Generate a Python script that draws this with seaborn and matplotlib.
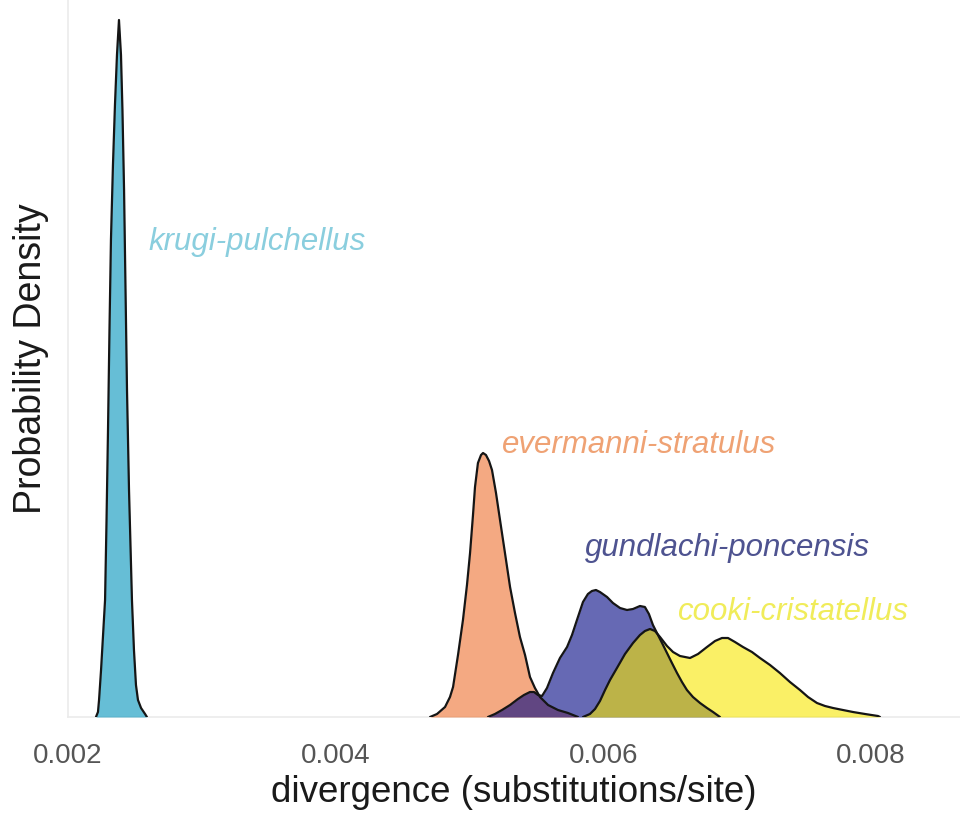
import matplotlib
matplotlib.use("Agg")
import matplotlib.pyplot as plt
import pandas as pd
import seaborn as sns

# Posterior densities of pairwise divergence (substitutions/site)
species = ["krugi-pulchellus", "evermanni-stratulus",
           "gundlachi-poncensis", "cooki-cristatellus"]

krugi_x = [0.002209, 0.002224, 0.002232, 0.002247, 0.002262, 0.002277, 0.002288,
           0.002299, 0.002310, 0.002321, 0.002336, 0.002351, 0.002366, 0.002381,
           0.002396, 0.002407, 0.002419, 0.002430, 0.002441, 0.002456, 0.002478,
           0.002493, 0.002508, 0.002523, 0.002546, 0.002576, 0.002590]
krugi_d = [0, 50, 170, 470, 820, 1170, 1970, 2870, 3870, 4770, 5520, 6120, 6620,
           6970, 6620, 6070, 5270, 4270, 3270, 2270, 1170, 670, 320, 170, 90, 30, 0]

evermanni_x = [0.004706, 0.004758, 0.004818, 0.004855, 0.004878, 0.004915, 0.004952,
               0.004982, 0.005005, 0.005027, 0.005042, 0.005064, 0.005087, 0.005102,
               0.005124, 0.005147, 0.005169, 0.005199, 0.005229, 0.005266, 0.005304,
               0.005341, 0.005378, 0.005416, 0.005453, 0.005490, 0.005528, 0.005588,
               0.005662, 0.005737, 0.005812]
evermanni_d = [0, 30, 100, 200, 300, 620, 970, 1320, 1640, 2020, 2300, 2540, 2620,
               2640, 2620, 2560, 2470, 2240, 1970, 1640, 1300, 1040, 800, 620, 400,
               290, 200, 120, 70, 40, 0]

gundlachi_x = [0.005139, 0.005191, 0.005244, 0.005304, 0.005363, 0.005408, 0.005453,
               0.005483, 0.005513, 0.005543, 0.005580, 0.005625, 0.005677, 0.005730,
               0.005767, 0.005804, 0.005849, 0.005886, 0.005916, 0.005946, 0.005976,
               0.006029, 0.006073, 0.006126, 0.006178, 0.006223, 0.006275, 0.006312,
               0.006342, 0.006372, 0.006402, 0.006440, 0.006477, 0.006514, 0.006552,
               0.006589, 0.006626, 0.006671, 0.006724, 0.006776, 0.006821, 0.006873]
gundlachi_d = [0, 30, 70, 120, 180, 220, 250, 250, 220, 210, 290, 440, 590, 700,
               820, 970, 1150, 1230, 1260, 1270, 1250, 1200, 1140, 1090, 1070, 1080,
               1110, 1100, 1030, 920, 840, 740, 640, 540, 440, 350, 270, 200, 140,
               90, 50, 0]

cooki_x = [0.005849, 0.005901, 0.005939, 0.005976, 0.006014, 0.006051, 0.006103,
           0.006163, 0.006223, 0.006275, 0.006312, 0.006350, 0.006387, 0.006425,
           0.006477, 0.006522, 0.006574, 0.006649, 0.006709, 0.006776, 0.006836,
           0.006888, 0.006933, 0.006985, 0.007045, 0.007112, 0.007172, 0.007247,
           0.007321, 0.007396, 0.007471, 0.007531, 0.007598, 0.007658, 0.007718,
           0.007792, 0.007867, 0.007957, 0.008054, 0.008069]
cooki_d = [0, 30, 80, 160, 270, 370, 490, 630, 740, 820, 860, 880, 860, 800, 710,
           650, 610, 590, 630, 700, 760, 790, 790, 750, 700, 650, 590, 520, 440,
           350, 270, 200, 140, 110, 90, 70, 50, 30, 10, 0]

x_ticks = [0.002, 0.004, 0.006, 0.008]
x_tick_labels = ["0.002", "0.004", "0.006", "0.008"]

series = {
    "krugi-pulchellus": (krugi_x, krugi_d),
    "evermanni-stratulus": (evermanni_x, evermanni_d),
    "gundlachi-poncensis": (gundlachi_x, gundlachi_d),
    "cooki-cristatellus": (cooki_x, cooki_d),
}
df = pd.concat(
    [pd.DataFrame({"divergence": xs, "density": ds, "pair": name})
     for name, (xs, ds) in series.items()],
    ignore_index=True,
)

fill_colors = {
    "krugi-pulchellus": "#0093BC",
    "evermanni-stratulus": "#EE712F",
    "gundlachi-poncensis": "#000582",
    "cooki-cristatellus": "#F7E600",
}
text_colors = {
    "krugi-pulchellus": "#8ACEDE",
    "evermanni-stratulus": "#EFA274",
    "gundlachi-poncensis": "#4E5390",
    "cooki-cristatellus": "#F0EC5A",
}
# label anchor (left edge, vertical centre) in data coordinates
label_anchor = {
    "krugi-pulchellus": (0.002598, 4750),
    "evermanni-stratulus": (0.005244, 2720),
    "gundlachi-poncensis": (0.005864, 1690),
    "cooki-cristatellus": (0.006559, 1050),
}

sns.set_theme(style="white")
plt.rcParams["font.family"] = ["Liberation Sans", "DejaVu Sans"]

fig = plt.figure(figsize=(9.6, 8.21), dpi=100)
ax = fig.add_axes([68 / 960, 104 / 821, 1 - 68 / 960, 1 - 104 / 821])

for name in species:
    sub = df[df["pair"] == name]
    ax.fill_between(sub["divergence"], 0, sub["density"],
                    color=fill_colors[name], alpha=0.6, linewidth=0, zorder=2)
    sns.lineplot(data=sub, x="divergence", y="density", color="#151515",
                 linewidth=1.6, sort=False, estimator=None, ax=ax, zorder=3)
    lx, ly = label_anchor[name]
    ax.text(lx, ly, name, color=text_colors[name], fontsize=22.5,
            fontstyle="italic", ha="left", va="center", zorder=4)

ax.set_xlim(0.002, 0.008667)
ax.set_ylim(0, 7170)
ax.set_xticks(x_ticks)
ax.set_xticklabels(x_tick_labels, fontsize=20, color="#555555")
ax.set_yticks([])
ax.tick_params(axis="x", length=0, pad=19)
ax.set_xlabel("divergence (substitutions/site)", fontsize=26.5,
              color="#1A1A1A", labelpad=4)
ax.set_ylabel("Probability Density", fontsize=27, color="#1A1A1A", labelpad=14)

for side in ["top", "right"]:
    ax.spines[side].set_visible(False)
for side in ["left", "bottom"]:
    ax.spines[side].set_color("#EBEBEB")
    ax.spines[side].set_linewidth(1.2)
    ax.spines[side].set_zorder(1)

fig.savefig("out.png", dpi=100)
